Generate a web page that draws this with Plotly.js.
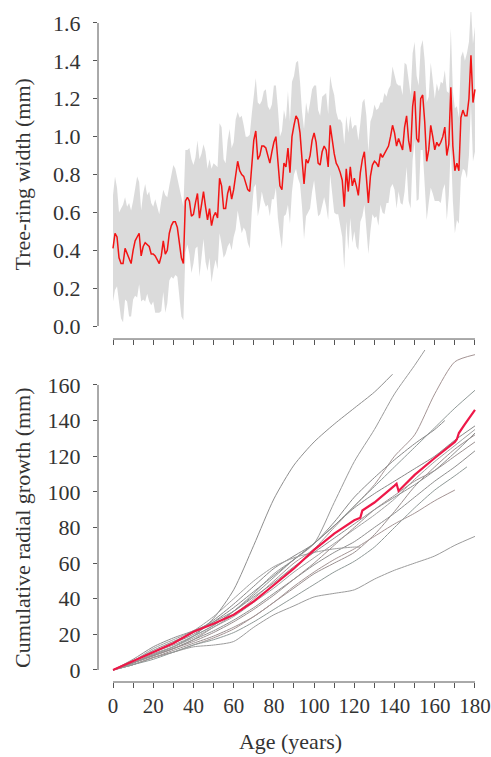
<!DOCTYPE html>
<html>
<head>
<meta charset="utf-8">
<script src="https://cdn.plot.ly/plotly-3.0.1.min.js"></script>
<style>html,body{margin:0;padding:0;background:#fff;}#chart{width:491px;height:757px;}</style>
</head>
<body>
<div id="chart"></div>
<script>
// ---- Top panel: mean tree-ring width (mm) by age 0..180, and its spread (SD)
const ringWidth = [
0.41,0.49,0.47,0.36,0.33,0.33,0.41,0.38,0.35,0.33,
0.40,0.45,0.47,0.49,0.37,0.42,0.44,0.43,0.42,0.38,
0.38,0.37,0.35,0.33,0.37,0.45,0.38,0.40,0.49,0.53,
0.55,0.55,0.52,0.44,0.36,0.33,0.66,0.68,0.66,0.58,
0.59,0.65,0.70,0.57,0.64,0.71,0.63,0.56,0.62,0.53,
0.58,0.60,0.57,0.78,0.74,0.62,0.62,0.70,0.74,0.67,
0.72,0.80,0.87,0.82,0.80,0.79,0.75,0.72,0.71,0.86,
0.98,1.03,0.88,0.90,0.95,0.95,0.94,0.90,0.86,0.92,
0.97,1.00,0.86,0.74,0.72,0.86,0.84,0.94,0.81,1.00,
1.06,1.11,1.09,1.02,0.88,0.75,0.88,0.86,0.90,0.98,
1.02,0.97,0.86,0.85,0.92,0.95,0.93,0.84,1.06,0.97,
0.91,0.86,0.84,0.81,0.77,0.63,0.83,0.71,0.84,0.74,
0.78,0.74,0.69,0.81,0.88,0.92,0.80,0.65,0.79,0.85,
0.87,0.86,0.84,0.91,0.89,0.91,0.93,0.95,1.00,1.06,
1.02,0.95,0.99,0.96,0.93,1.05,1.11,0.98,0.92,1.16,
1.24,0.99,0.97,1.20,1.22,1.08,0.87,0.93,1.06,1.00,
0.93,0.97,0.95,0.97,1.00,1.05,0.90,0.96,1.26,0.95,
0.82,0.86,0.82,1.10,1.14,1.11,1.11,1.20,1.43,1.18,
1.25];
const ringSd = [
0.28,0.30,0.26,0.24,0.29,0.31,0.27,0.25,0.30,0.28,
0.26,0.29,0.32,0.27,0.24,0.28,0.31,0.26,0.29,0.27,
0.25,0.30,0.28,0.26,0.29,0.27,0.31,0.28,0.25,0.27,
0.30,0.28,0.26,0.29,0.31,0.30,0.27,0.25,0.28,0.30,
0.26,0.24,0.28,0.31,0.27,0.25,0.29,0.27,0.26,0.30,
0.28,0.25,0.27,0.29,0.31,0.26,0.24,0.28,0.30,0.27,
0.25,0.29,0.26,0.28,0.31,0.27,0.25,0.28,0.30,0.26,
0.25,0.28,0.30,0.27,0.24,0.29,0.31,0.26,0.28,0.25,
0.30,0.27,0.29,0.26,0.31,0.28,0.25,0.30,0.27,0.29,
0.26,0.28,0.31,0.27,0.25,0.29,0.30,0.26,0.28,0.27,
0.25,0.30,0.28,0.26,0.29,0.27,0.30,0.28,0.26,0.29,
0.31,0.27,0.25,0.28,0.30,0.33,0.28,0.31,0.27,0.30,
0.28,0.32,0.29,0.26,0.30,0.28,0.31,0.27,0.29,0.26,
0.30,0.28,0.31,0.27,0.29,0.32,0.28,0.30,0.27,0.31,
0.30,0.33,0.28,0.31,0.29,0.34,0.27,0.32,0.30,0.28,
0.26,0.33,0.30,0.27,0.29,0.32,0.31,0.28,0.33,0.30,
0.27,0.31,0.29,0.32,0.28,0.30,0.34,0.27,0.31,0.29,
0.33,0.30,0.28,0.32,0.31,0.29,0.33,0.30,0.26,0.31,
0.33];
const firstAge = 0;

// ---- Bottom panel: cumulative radial growth (mm) of individual trees
const treeAges = [
  [0,10,20,30,40,50,60,70,80,90,100,110,120,130,139],
  [0,10,20,30,40,50,60,70,80,90,100,110,120,130,140,150,160],
  [0,10,20,30,40,50,60,70,80,90,100,110,120,130,140,150,160,170,180],
  [0,10,20,30,40,50,60,70,80,90,100,110,120,130,140,150,160,170,180],
  [0,10,20,30,40,50,60,70,80,90,100,110,120,130,140,150,160,170,180],
  [0,10,20,30,40,50,60,70,80,90,100,110,120,130,140,150,160,170,180],
  [0,10,20,30,40,50,60,70,80,90,100,110,120,130,140,150,160,170,180],
  [0,10,20,30,40,50,60,70,80,90,100,110,120,130,140,150,160,170,180],
  [0,10,20,30,40,50,60,70,80,90,100,110,120,130,140,150,160,170,180],
  [0,10,20,30,40,50,60,70,80,90,100,110,120,130,140,150,160,170],
  [0,10,20,30,40,50,60,70,80,90,100,110,120,130,140,150,160,170,176],
  [0,10,20,30,40,50,60,70,80,90,100,110,120,130,140,150,160,165],
  [0,10,20,30,40,50,60,70,80,90,100,110,120,123],
  [0,10,20,30,40,50,60,70,80,90,100,110,120,130,140,150,160,170,180],
  [0,10,20,30,40,50,60,70,80,90,100,110,120,130,140,150,160,170,180]
];
const treeCum = [
  [0,4,8.5,13,19,29,45,70,96,115,128,138,147,156,166],
  [0,5,10,14,19,25,33,43,54,62,71,94,117,135,155,171,188],
  [0,4,8,12,17,24,31,40,50,60,68,80,92,104,120,132,155,173,177],
  [0,4,9,13,19,25,33,42,52,62,71,81,92,103,114,125,136,147,157],
  [0,5,10,15,20,27,35,44,53,62,71,81,91,99,106,113,120,129,137],
  [0,4,9,13,18,24,30,38,46,55,63,71,79,87,96,107,117,126,135],
  [0,3,7,11,15,19,24,30,38,46,54,60,66,76,89,103,114,124,132],
  [0,4,8,12,17,22,28,35,43,51,59,66,72,80,88,97,106,114,123],
  [0,3,7,10,13,14,16,24,31,36,41,43,45,51,56,60,64,70,75],
  [0,3,7,10,14,18,23,30,38,47,55,62,68,75,82,88,95,101],
  [0,3,6,10,14,17,21,27,34,41,48,55,61,69,80,91,101,109,114],
  [0,5,11,16,21,28,37,47,57,64,71,83,97,108,118,127,135,140],
  [0,5,12,17,22,30,40,50,58,63,66,68,69,69],
  [0,4,8,12,16,21,27,34,42,51,60,70,80,90,98,106,112,120,128],
  [0,6,13,18,22,27,33,41,49,58,66,74,82,90,97,104,112,122,133]
];
// mean cumulative growth (red)
const meanAges = [0,10,20,30,40,50,60,70,80,90,100,110,120,123,124,130,140,141,142,150,160,170,171,172,175,180];
const meanCum  = [0,5,10.3,15,21.5,26,31,38.5,47.7,57,67.4,76.5,84,85.5,89.5,94,103.5,104.5,100.5,109.5,119,128,129.5,133,138,146];

// ---- Tick labels
const ageTickVals = [0,10,20,30,40,50,60,70,80,90,100,110,120,130,140,150,160,170,180];
const ageTickText = ['0','','20','','40','','60','','80','','100','','120','','140','','160','','180'];
const widthTickVals = [0,0.2,0.4,0.6,0.8,1.0,1.2,1.4,1.6];
const widthTickText = ['0.0','0.2','0.4','0.6','0.8','1.0','1.2','1.4','1.6'];
const cumTickVals = [0,20,40,60,80,100,120,140,160];
const cumTickText = ['0','20','40','60','80','100','120','140','160'];

const ages = ringWidth.map((_, i) => firstAge + i);
const upper = ringWidth.map((v, i) => v + ringSd[i]);
const lower = ringWidth.map((v, i) => Math.max(0, v - ringSd[i]));

const grays = ['#8e8e8e','#9b9b9b','#a49494','#8f9997','#888888','#a0a0a0','#9a8f8f'];

const traces = [
  {x: ages, y: lower, xaxis:'x', yaxis:'y', mode:'lines', line:{width:0, color:'rgba(0,0,0,0)'}, hoverinfo:'skip'},
  {x: ages, y: upper, xaxis:'x', yaxis:'y', mode:'lines', fill:'tonexty', fillcolor:'rgba(205,205,205,0.72)', line:{width:0, color:'rgba(0,0,0,0)'}, hoverinfo:'skip'},
  {x: ages, y: ringWidth, xaxis:'x', yaxis:'y', mode:'lines', line:{color:'#f21414', width:1.5}}
];
treeCum.forEach((vals, k) => {
  traces.push({x: treeAges[k], y: vals, xaxis:'x2', yaxis:'y2', mode:'lines',
    line:{color: grays[k % grays.length], width:1, shape:'spline', smoothing:0.7}});
});
traces.push({x: meanAges, y: meanCum, xaxis:'x2', yaxis:'y2', mode:'lines', line:{color:'#ee1848', width:2.2}});

const fontFam = '"Liberation Serif", "DejaVu Serif", serif';
const axColor = '#555';
const fs = 22;
const commonX = {
  range:[-7.46, 183.99], tickvals: ageTickVals, ticks:'outside', ticklen:5, tickwidth:1, tickcolor:axColor,
  showline:false, showgrid:false, zeroline:false
};
const commonY = {ticks:'outside', ticklen:4, tickwidth:1, tickcolor:axColor, showline:false, showgrid:false, zeroline:false, ticklabelstandoff:8};

const topBase = 0.5119;
const layout = {
  width:491, height:757,
  margin:{l:98, r:8, t:12, b:75},
  paper_bgcolor:'#ffffff', plot_bgcolor:'#ffffff',
  showlegend:false,
  font:{family:fontFam, size:fs, color:'#333'},
  xaxis: Object.assign({}, commonX, {domain:[0,1], anchor:'y', showticklabels:false}),
  yaxis: Object.assign({}, commonY, {domain:[topBase,1], anchor:'x', range:[-0.0686,1.658], tickvals:widthTickVals, ticktext:widthTickText}),
  xaxis2: Object.assign({}, commonX, {domain:[0,1], anchor:'y2', ticktext:ageTickText, ticklabelstandoff:0,
    tickfont:{family:fontFam, size:21, color:'#333'},
    title:{text:'Age (years)', font:{family:fontFam, size:fs, color:'#333'}, standoff:16}}),
  yaxis2: Object.assign({}, commonY, {domain:[0,0.4955], anchor:'x2', range:[-6.74,179.6], tickvals:cumTickVals, ticktext:cumTickText}),
  shapes:[
    {type:'line', xref:'x', yref:'paper', x0:0, x1:180, y0:topBase, y1:topBase, line:{color:axColor, width:1}},
    {type:'line', xref:'paper', yref:'y', x0:0, x1:0, y0:0, y1:1.6, line:{color:axColor, width:1}},
    {type:'line', xref:'x2', yref:'paper', x0:0, x1:180, y0:0, y1:0, line:{color:axColor, width:1}},
    {type:'line', xref:'paper', yref:'y2', x0:0, x1:0, y0:0, y1:160, line:{color:axColor, width:1}}
  ],
  annotations:[
    {text:'Tree-ring width (mm)', xref:'paper', yref:'paper', x:-0.195, y:0.7575, textangle:-90,
     showarrow:false, xanchor:'center', yanchor:'middle', font:{family:fontFam, size:fs, color:'#333'}},
    {text:'Cumulative radial growth (mm)', xref:'paper', yref:'paper', x:-0.195, y:0.2299, textangle:-90,
     showarrow:false, xanchor:'center', yanchor:'middle', font:{family:fontFam, size:fs, color:'#333'}}
  ]
};

Plotly.newPlot('chart', traces, layout, {displayModeBar:false, staticPlot:true});
</script>
</body>
</html>
